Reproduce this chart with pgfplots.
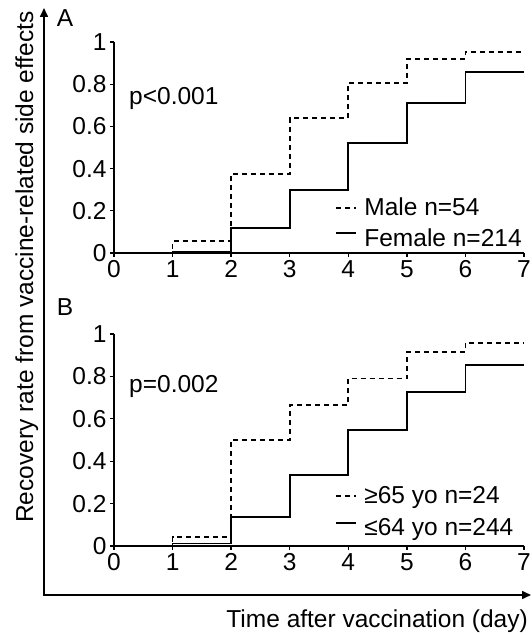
\documentclass[border=0pt]{standalone}
\usepackage{fontspec}
\setmainfont{Liberation Sans}
\usepackage{pgfplots}
\pgfplotsset{compat=1.18}
\usetikzlibrary{arrows.meta}

\newcommand{\bigf}{\fontsize{24.5}{28}\selectfont}

\pgfplotsset{
  km/.style={
    scale only axis,
    width=410pt,
    xmin=0, xmax=7, ymin=0, ymax=1,
    axis lines*=left,
    axis line style={line width=1.6pt},
    xtick={0,1,2,3,4,5,6,7},
    ytick={0,0.2,0.4,0.6,0.8,1},
    tick align=outside,
    major tick length=4pt,
    tick style={line width=1.3pt, black},
    every tick label/.append style={font=\bigf},
    /pgf/number format/assume math mode=true,
    clip=false,
    legend cell align=left,
    legend style={draw=none, fill=none, font=\bigf, anchor=north west,
      inner sep=0pt, row sep=7pt},
    legend image code/.code={\draw[#1] (0pt,0pt) -- (20pt,0pt); \path (25pt,0pt);},
  },
  dashstep/.style={const plot, line width=1.8pt, dash pattern=on 5pt off 4pt, black},
  solidstep/.style={const plot, line width=1.8pt, black,
    legend image code/.code={\draw[##1] (0pt,5pt) -- (20pt,5pt); \path (25pt,-5pt);}},
}

\begin{document}
\begin{tikzpicture}[x=1pt,y=1pt]
\useasboundingbox (0,0) rectangle (531,635);

% outer frame with arrows
\draw[line width=1.6pt, {Triangle[length=9pt,width=8pt]}-{Triangle[length=9pt,width=8pt]}]
  (44,627) -- (44,40) -- (531,40);
\node[font=\bigf] at (65,617) {A};
\node[font=\bigf] at (65,328) {B};
\node[font=\bigf, rotate=90, anchor=base] at (33,368)
  {Recovery rate from vaccine-related side effects};
\node[font=\bigf, anchor=base east, inner sep=0pt] at (528,8)
  {Time after vaccination (day)};

% panel A: sex
\begin{axis}[km, height=211pt, at={(114pt,382pt)}, anchor=south west,
  legend style={at={(0.54,0.27)}}]
  \addplot[dashstep] coordinates {
    (0,0) (1,0.057) (2,0.374) (3,0.638) (4,0.804) (5,0.918) (6,0.954) (7,0.954)
  };
  \addlegendentry{Male n=54}
  \addplot[solidstep] coordinates {
    (0,0) (1,0.006) (2,0.117) (3,0.299) (4,0.520) (5,0.712) (6,0.856) (7,0.856)
  };
  \addlegendentry{Female n=214}
\end{axis}

% panel B: age
\begin{axis}[km, height=212pt, at={(114pt,89pt)}, anchor=south west,
  legend style={at={(0.54,0.29)}, row sep=9pt}]
  \addplot[dashstep] coordinates {
    (0,0) (1,0.042) (2,0.500) (3,0.665) (4,0.790) (5,0.915) (6,0.958) (7,0.958)
  };
  \addlegendentry{≥65 yo n=24}
  \addplot[solidstep] coordinates {
    (0,0) (1,0.012) (2,0.137) (3,0.335) (4,0.547) (5,0.727) (6,0.854) (7,0.854)
  };
  \addlegendentry{≤64 yo n=244}
\end{axis}

\node[font=\bigf, anchor=base west, inner sep=0pt] at (129,530) {p<0.001};
\node[font=\bigf, anchor=base west, inner sep=0pt] at (129,242) {p=0.002};
\end{tikzpicture}
\end{document}
